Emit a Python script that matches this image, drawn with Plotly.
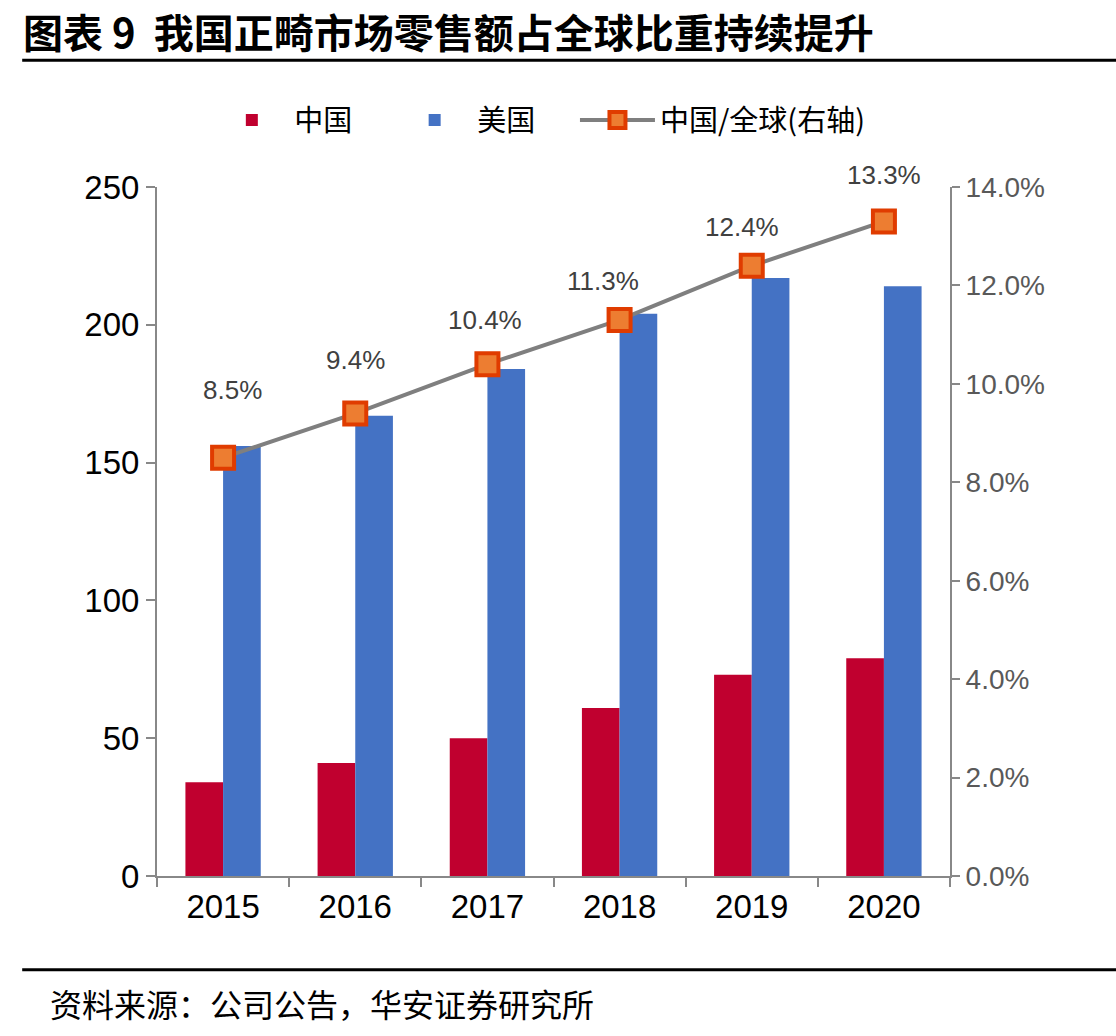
import plotly.graph_objects as go

years = ["2015", "2016", "2017", "2018", "2019", "2020"]
china = [34, 41, 50, 61, 73, 79]
usa = [156, 167, 184, 204, 217, 214]
share = [0.085, 0.094, 0.104, 0.113, 0.124, 0.133]
share_labels = ["8.5%", "9.4%", "10.4%", "11.3%", "12.4%", "13.3%"]

# label offsets (pixels) relative to markers
label_dx = [9, 0, -2, -17, -10, 0]
label_dy = [68, 53, 44, 39, 39, 46]

title = "图表 9  我国正畸市场零售额占全球比重持续提升"
source = "资料来源：公司公告，华安证券研究所"
PAD = "\u2003\u2009"  # spacing between legend entries

CJK = "Noto Sans CJK SC"
LAT = "Liberation Sans, Arial"
AX = "#888888"

fig = go.Figure()
fig.add_trace(go.Bar(x=years, y=china, name="中国" + PAD, marker=dict(color="#C0002F", line=dict(width=0))))
fig.add_trace(go.Bar(x=years, y=usa, name="美国" + PAD, marker=dict(color="#4472C4", line=dict(width=0))))
fig.add_trace(go.Scatter(
    x=years, y=share, name="中国/全球(右轴)", yaxis="y2", mode="lines+markers",
    line=dict(color="#7F7F7F", width=4),
    marker=dict(symbol="square", size=22, color="#ED7D31", line=dict(color="#E03C00", width=4)),
))

for i, (v, t) in enumerate(zip(share, share_labels)):
    fig.add_annotation(x=i, y=v, xref="x", yref="y2", text=t, showarrow=False,
                       xshift=label_dx[i], yshift=label_dy[i],
                       font=dict(family=LAT, size=26, color="#404040"))

fig.update_layout(
    width=1116, height=1036,
    margin=dict(l=157, r=166, t=187, b=160),
    paper_bgcolor="white", plot_bgcolor="white",
    barmode="group", bargap=0.43, bargroupgap=0,
    showlegend=True,
    legend=dict(orientation="h", x=0.066, xanchor="left", y=1.097, yanchor="middle",
                font=dict(family=CJK, size=29, color="#000000"), itemwidth=75,
                traceorder="normal", itemclick=False),
    xaxis=dict(type="category", range=[-0.5, 5.5], showline=True, linecolor=AX, linewidth=2,
               ticks="outside", tickson="boundaries", ticklen=9, tickcolor=AX, tickwidth=2,
               tickfont=dict(family=LAT, size=33, color="#000000"), tickangle=0,
               showgrid=False, zeroline=False),
    yaxis=dict(range=[0, 250], dtick=50, showline=True, linecolor=AX, linewidth=2,
               ticks="outside", ticklen=9, tickcolor=AX, tickwidth=2,
               tickfont=dict(family=LAT, size=33, color="#000000"),
               showgrid=False, zeroline=False),
    yaxis2=dict(range=[0, 0.14], dtick=0.02, tickformat=".1%", overlaying="y", side="right",
                showline=True, linecolor=AX, linewidth=2,
                ticks="outside", ticklen=8, tickcolor=AX, tickwidth=2,
                tickfont=dict(family=LAT, size=28, color="#595959"),
                showgrid=False, zeroline=False),
)

fig.add_annotation(xref="paper", yref="paper", x=-0.172, y=1.227, xanchor="left", yanchor="middle",
                   text="<b>" + title + "</b>", showarrow=False,
                   font=dict(family=CJK, size=40, color="#000000"))
fig.add_annotation(xref="paper", yref="paper", x=-0.137, y=-0.184, xanchor="left", yanchor="middle",
                   text=source, showarrow=False,
                   font=dict(family=CJK, size=32, color="#000000"))
fig.add_shape(type="line", xref="paper", yref="paper", x0=-0.170, x1=1.21, y0=1.184, y1=1.184,
              line=dict(color="#000000", width=3))
fig.add_shape(type="line", xref="paper", yref="paper", x0=-0.170, x1=1.21, y0=-0.136, y1=-0.136,
              line=dict(color="#000000", width=3))

fig.write_html("out.html")
